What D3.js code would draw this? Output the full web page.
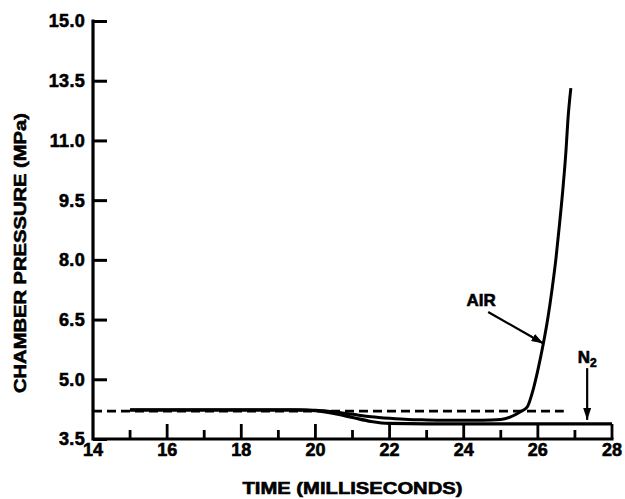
<!DOCTYPE html>
<html>
<head>
<meta charset="utf-8">
<script src="https://cdn.jsdelivr.net/npm/d3@7"></script>
<style>
  html, body { margin: 0; padding: 0; background: #fff; }
  svg text { font-family: "Liberation Sans", Arial, Helvetica, sans-serif; font-weight: bold; fill: #000; stroke: #000; stroke-width: 0.6px; }
</style>
</head>
<body>
<svg id="chart" width="625" height="499"></svg>
<script>
// ---- data ----
const yTickValues = [3.5, 5.0, 6.5, 8.0, 9.5, 11.0, 13.5, 15.0];
const yTickLabels = ["3.5", "5.0", "6.5", "8.0", "9.5", "11.0", "13.5", "15.0"];
const xTickValues = [14, 15, 16, 17, 18, 19, 20, 21, 22, 23, 24, 25, 26, 27, 28];
const xTickLabels = ["14", "16", "18", "20", "22", "24", "26", "28"];

const airTime = [15, 19.5, 20, 20.5, 21, 21.5, 22, 22.5, 23, 24, 24.5, 25, 25.25, 25.52, 25.71, 25.87, 26.0, 26.14, 26.27, 26.38, 26.49, 26.59, 26.68, 26.76, 26.81, 26.89];
const airPressure = [4.23, 4.23, 4.22, 4.18, 4.12, 4.06, 4.02, 3.99, 3.98, 3.97, 3.97, 3.99, 4.05, 4.18, 4.30, 4.73, 5.23, 5.86, 6.54, 7.24, 8.05, 8.95, 9.83, 10.76, 11.85, 13.19];

const n2Time = [15, 19.5, 20, 20.5, 21, 21.5, 22, 23, 24, 26, 28];
const n2Pressure = [4.23, 4.23, 4.21, 4.14, 4.04, 3.94, 3.89, 3.88, 3.88, 3.88, 3.88];

const refTime = [14, 26.7];
const refPressure = [4.2, 4.2];

const annotations = [
  { label: "AIR", sub: "", tx: 24.47, tp: 7.0, fromT: 24.66, fromP: 6.69, toT: 26.15, toP: 5.9 },
  { label: "N", sub: "2", tx: 27.33, tp: 5.56, fromT: 27.33, fromP: 5.28, toT: 27.33, toP: 3.98 }
];

const xTitle = "TIME (MILLISECONDS)";
const yTitle = "CHAMBER PRESSURE (MPa)";

// ---- layout ----
const svg = d3.select("#chart");
const pLeft = 93, pRight = 612, pTop = 21, pBottom = 439;

const x = d3.scaleLinear().domain([14, 28]).range([pLeft, pRight]);
const n = yTickValues.length;
const y = d3.scaleLinear()
  .domain(yTickValues)
  .range(yTickValues.map((d, i) => pBottom - i * (pBottom - pTop) / (n - 1)));

const ink = "#000";

// y axis
const yAxis = d3.axisRight(y).tickValues(yTickValues).tickSize(14).tickFormat("");
const gy = svg.append("g").attr("transform", `translate(${pLeft},0)`).call(yAxis);
gy.select(".domain").remove();
gy.selectAll(".tick line").attr("stroke", ink).attr("stroke-width", 3);
svg.append("line").attr("x1", pLeft).attr("x2", pLeft).attr("y1", pTop - 1.5).attr("y2", pBottom + 1.5)
  .attr("stroke", ink).attr("stroke-width", 3.2);

// y tick labels
svg.append("g").selectAll("text").data(yTickValues).join("text")
  .attr("x", pLeft - 8).attr("y", d => y(d)).attr("dy", "0.36em")
  .attr("text-anchor", "end").attr("font-size", 18).attr("letter-spacing", 0.3)
  .text((d, i) => yTickLabels[i]);

// x axis baseline
svg.append("line").attr("x1", pLeft).attr("x2", pRight + 1.5).attr("y1", pBottom).attr("y2", pBottom)
  .attr("stroke", ink).attr("stroke-width", 3.2);

// x ticks (upward, majors taller)
svg.append("g").selectAll("line").data(xTickValues.filter(d => d > 14)).join("line")
  .attr("x1", d => x(d)).attr("x2", d => x(d))
  .attr("y1", pBottom)
  .attr("y2", d => pBottom - (d % 2 === 0 ? 15 : 9))
  .attr("stroke", ink).attr("stroke-width", 2.8);

// x tick labels
svg.append("g").selectAll("text").data(xTickLabels).join("text")
  .attr("x", d => x(+d)).attr("y", pBottom + 11).attr("dy", "0.36em")
  .attr("text-anchor", "middle").attr("font-size", 18)
  .text(d => d);

// axis titles
svg.append("text").attr("x", (pLeft + pRight) / 2).attr("y", 494)
  .attr("text-anchor", "middle").attr("font-size", 17)
  .attr("textLength", 220).attr("lengthAdjust", "spacingAndGlyphs").text(xTitle);
svg.append("text").attr("transform", "translate(26,253) rotate(-90)")
  .attr("text-anchor", "middle").attr("font-size", 17)
  .attr("textLength", 280).attr("lengthAdjust", "spacingAndGlyphs").text(yTitle);

// lines
const line = d3.line().x(d => x(d[0])).y(d => y(d[1])).curve(d3.curveMonotoneX);

svg.append("path").datum(refTime.map((t, i) => [t, refPressure[i]]))
  .attr("d", d3.line().x(d => x(d[0])).y(d => y(d[1])))
  .attr("fill", "none").attr("stroke", ink).attr("stroke-width", 2.8)
  .attr("stroke-dasharray", "9,5");

svg.append("path").datum(n2Time.map((t, i) => [t, n2Pressure[i]]))
  .attr("d", line).attr("fill", "none").attr("stroke", ink).attr("stroke-width", 3.2)
  .attr("stroke-linejoin", "round");

svg.append("path").datum(airTime.map((t, i) => [t, airPressure[i]]))
  .attr("d", line).attr("fill", "none").attr("stroke", ink).attr("stroke-width", 3)
  .attr("stroke-linejoin", "round");

// annotations
const defs = svg.append("defs");
defs.append("marker").attr("id", "arrow").attr("viewBox", "0 0 12 8")
  .attr("refX", 12).attr("refY", 4).attr("markerWidth", 12).attr("markerHeight", 8)
  .attr("markerUnits", "userSpaceOnUse").attr("orient", "auto")
  .append("path").attr("d", "M0,0 L12,4 L0,8 Z").attr("fill", ink);

annotations.forEach(a => {
  const t = svg.append("text").attr("x", x(a.tx)).attr("y", y(a.tp)).attr("dy", "0.36em")
    .attr("text-anchor", "middle").attr("font-size", 17);
  t.append("tspan").text(a.label);
  if (a.sub) t.append("tspan").attr("font-size", 12).attr("dy", "0.3em").text(a.sub);
  svg.append("line")
    .attr("x1", x(a.fromT)).attr("y1", y(a.fromP))
    .attr("x2", x(a.toT)).attr("y2", y(a.toP))
    .attr("stroke", ink).attr("stroke-width", 2.2).attr("marker-end", "url(#arrow)");
});
</script>
</body>
</html>
